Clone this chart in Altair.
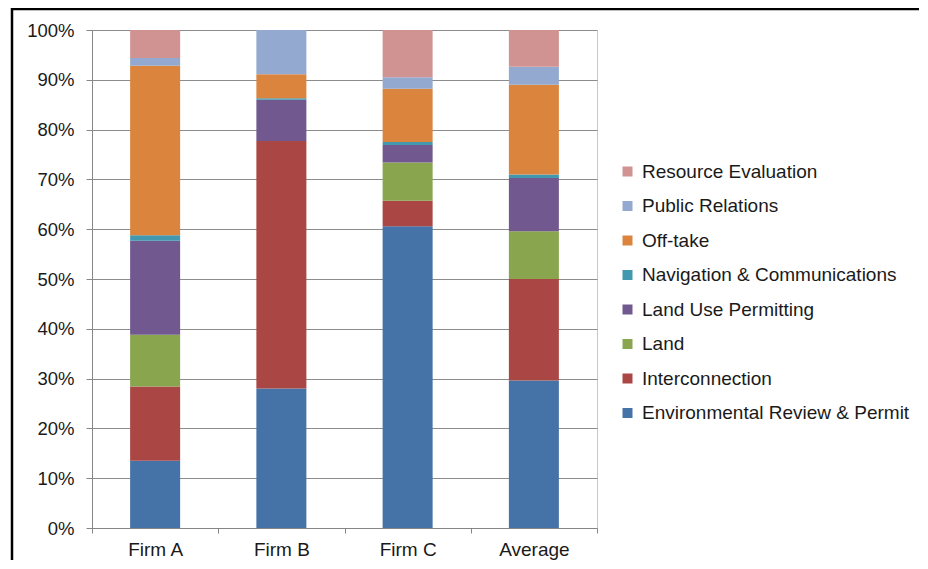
import altair as alt
import pandas as pd

categories = ["Firm A", "Firm B", "Firm C", "Average"]
series = [
    "Environmental Review & Permit",
    "Interconnection",
    "Land",
    "Land Use Permitting",
    "Navigation & Communications",
    "Off-take",
    "Public Relations",
    "Resource Evaluation",
]
colors = ["#4572A7", "#AA4643", "#89A54E", "#71588F", "#4198AF", "#DB843D", "#93A9CF", "#D19392"]

env = [13.5, 28.0, 60.6, 29.6]
inter = [14.9, 49.7, 5.1, 20.4]
land = [10.4, 0.0, 7.7, 9.6]
land_use = [18.9, 8.3, 3.5, 10.7]
nav = [1.1, 0.3, 0.6, 0.7]
offtake = [34.0, 4.8, 10.7, 18.0]
pr = [1.6, 8.9, 2.3, 3.6]
resource = [5.6, 0.0, 9.5, 7.4]

values = [env, inter, land, land_use, nav, offtake, pr, resource]

rows = []
for si, (name, vals) in enumerate(zip(series, values)):
    for cat, v in zip(categories, vals):
        rows.append({"cat": cat, "series": name, "idx": si, "value": v})
df = pd.DataFrame(rows)

FONT = "Liberation Sans"
W, H = 505, 498

legend_domain = list(reversed(series))
legend_colors = list(reversed(colors))

bars = alt.Chart(df).mark_bar(size=50).encode(
    x=alt.X("cat:N", sort=categories, title=None,
            scale=alt.Scale(paddingInner=0, paddingOuter=0),
            axis=alt.Axis(labelAngle=0, tickBand="extent", tickSize=5, tickColor="#868686",
                          domainColor="#868686", labelFontSize=19, labelFont=FONT,
                          labelColor="#1a1a1a", labelPadding=7, grid=False)),
    y=alt.Y("value:Q", stack="normalize", title=None,
            scale=alt.Scale(domain=[0, 1]),
            axis=alt.Axis(format="%", values=[i / 10 for i in range(11)], tickSize=6,
                          tickColor="#868686", domainColor="#868686", gridColor="#8c8c8c",
                          labelFontSize=18.5, labelFont=FONT, labelColor="#1a1a1a",
                          labelPadding=12)),
    color=alt.Color("series:N", scale=alt.Scale(domain=legend_domain, range=legend_colors),
                    legend=alt.Legend(title=None, orient="none", legendX=526, legendY=132,
                                      symbolType="square", symbolSize=100, symbolStrokeWidth=0,
                                      labelFontSize=19, labelFont=FONT, labelColor="#1a1a1a",
                                      rowPadding=14.5, labelOffset=5, labelLimit=400)),
    order=alt.Order("idx:Q", sort="ascending"),
)

frame_top = alt.Chart(pd.DataFrame({"a": [0]})).mark_rule(color="black", strokeWidth=2.5).encode(
    x=alt.value(-81), x2=alt.value(W + 330), y=alt.value(-21)
)
frame_left = alt.Chart(pd.DataFrame({"a": [0]})).mark_rule(color="black", strokeWidth=2.5).encode(
    x=alt.value(-80), y=alt.value(-22), y2=alt.value(H + 40)
)

chart = alt.layer(bars, frame_top, frame_left).properties(
    width=W, height=H,
    autosize=alt.AutoSizeParams(type="none"),
    padding={"left": 84, "top": 22, "right": 322, "bottom": 32},
).configure_view(stroke="#c8c8c8", strokeWidth=1)

chart.save("out.html", embed_options={"renderer": "svg", "actions": False})
